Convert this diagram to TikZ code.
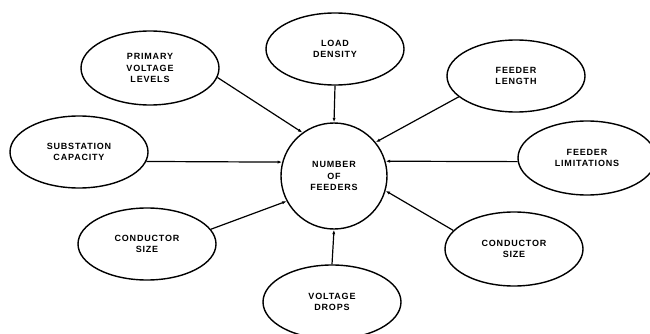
\documentclass[tikz,border=0pt]{standalone}
\usepackage{fontspec}
\newfontfamily\labelfont{Liberation Sans}[LetterSpace=9]
\usetikzlibrary{shapes.geometric,arrows.meta}

\begin{document}
\begin{tikzpicture}[x=1pt,y=-1pt,
  labeltext/.style={font=\labelfont\bfseries\fontsize{9}{11.5}\selectfont},
  oval/.style={ellipse,draw,line width=1.4pt,minimum width=138pt,minimum height=72pt,
    inner sep=0pt,align=center,labeltext},
  hub/.style={circle,draw,line width=1.4pt,minimum size=106pt,inner sep=0pt,
    align=center,labeltext},
  feed/.style={line width=1.2pt,-{Latex[length=4.5pt,width=3.2pt]}}]
\useasboundingbox (0,0) rectangle (650,334);

% central factor
\node[hub] (nf) at (334,176) {NUMBER\\OF\\FEEDERS};

% influencing factors
\node[oval] (ld)   at (335,49)  {LOAD\\DENSITY};
\node[oval,minimum height=74pt] (pvl) at (150,68) {PRIMARY\\VOLTAGE\\LEVELS};
\node[oval] (fl)   at (516,76)  {FEEDER\\LENGTH};
\node[oval] (sc)   at (79,152)  {SUBSTATION\\CAPACITY};
\node[oval,minimum height=74pt] (flim) at (587,158) {FEEDER\\LIMITATIONS};
\node[oval] (csl)  at (147,244) {CONDUCTOR\\SIZE};
\node[oval,minimum height=74pt] (csr)  at (514,249) {CONDUCTOR\\SIZE};
\node[oval,minimum height=74pt] (vd)   at (332,302) {VOLTAGE\\DROPS};

% connectors into the hub
\draw[feed] (ld.south) -- (nf.north);
\draw[feed] (pvl.-8)   -- (nf.126);
\draw[feed] (fl.200)   -- (nf.39);
\draw[feed] (sc.-8)    -- (nf.165);
\draw[feed] (flim.183) -- (nf.16);
\draw[feed] (csl.13)   -- (nf.208);
\draw[feed] (csr.163)  -- (nf.-16);
\draw[feed] (vd.north) -- (nf.south);
\end{tikzpicture}
\end{document}
